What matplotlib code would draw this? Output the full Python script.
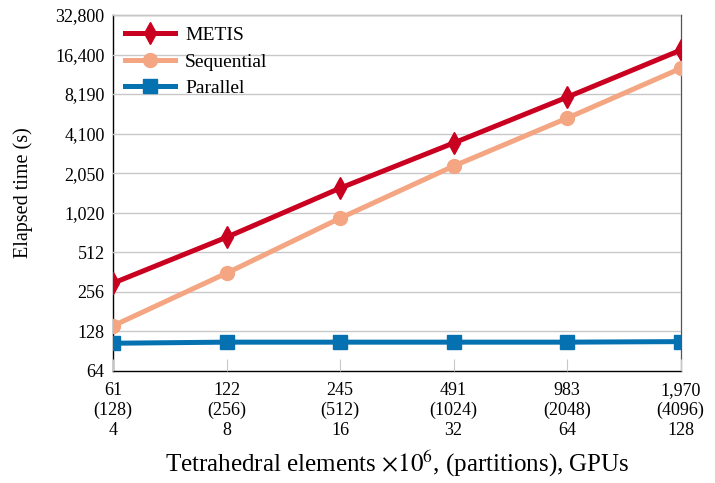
import matplotlib.pyplot as plt
import numpy as np

plt.rcParams['font.family'] = ['Liberation Serif', 'DejaVu Serif']
plt.rcParams['mathtext.fontset'] = 'stix'

elements = ['61', '122', '245', '491', '983', '1,970']
partitions = ['128', '256', '512', '1024', '2048', '4096']
gpus = ['4', '8', '16', '32', '64', '128']

metis = [298, 666, 1575, 3475, 7760, 17700]
sequential = [141, 355, 930, 2320, 5370, 12850]
parallel = [104, 106, 106, 106, 106, 107]

ytick_vals = [64, 128, 256, 512, 1024, 2048, 4096, 8192, 16384, 32768]
ytick_labels = ['64', '128', '256', '512', '1,020', '2,050', '4,100', '8,190', '16,400', '32,800']

x = np.arange(len(elements))

fig = plt.figure(figsize=(7.15, 4.83), dpi=100)
ax = fig.add_axes([0.158, 0.232, 0.794, 0.737])

ax.plot(x, metis, color='#ca0020', lw=3.6, marker='d', ms=11, label='METIS', zorder=4)
ax.plot(x, sequential, color='#f4a582', lw=3.6, marker='o', ms=10, label='Sequential', zorder=4)
ax.plot(x, parallel, color='#0571b0', lw=3.6, marker='s', ms=10, label='Parallel', zorder=4)

ax.set_yscale('log', base=2)
ax.set_ylim(64, 32768)
ax.set_xlim(0, 5)
ax.yaxis.set_minor_locator(plt.NullLocator())
ax.set_yticks(ytick_vals)
ax.set_yticklabels(ytick_labels)
ax.set_xticks(x)
ax.set_xticklabels(['%s\n(%s)\n%s' % (e, p, g) for e, p, g in zip(elements, partitions, gpus)],
                   linespacing=1.2)
ax.tick_params(axis='y', length=0, labelsize=13, pad=6)
ax.tick_params(axis='x', direction='in', length=9, color='#c8c8c8', labelsize=13, pad=8)

ax.grid(axis='y', color='#c8c8c8', lw=1, zorder=5)
ax.set_axisbelow(False)
for s in ['top', 'right']:
    ax.spines[s].set_color('#555555')
    ax.spines[s].set_linewidth(0.9)
for s in ['left', 'bottom']:
    ax.spines[s].set_color('black')
    ax.spines[s].set_linewidth(1.0)

ax.set_ylabel('Elapsed time (s)', fontsize=14.5, labelpad=16)
ax.set_xlabel(r'Tetrahedral elements $\times10^6$, (partitions), GPUs', fontsize=18, labelpad=7)

ax.legend(loc='upper left', frameon=False, fontsize=14, handlelength=2.6,
          borderaxespad=0.2, labelspacing=0.45, handletextpad=0.5)

plt.savefig('out.png', dpi=100)
